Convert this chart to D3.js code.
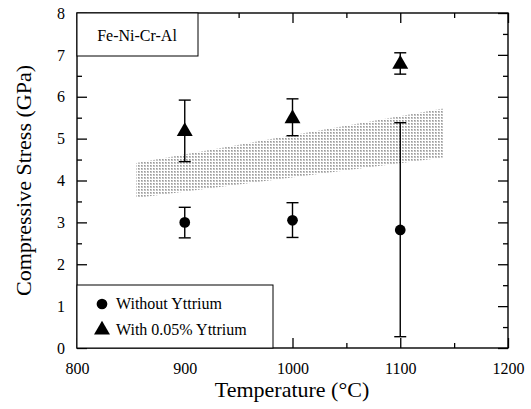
<!DOCTYPE html>
<html lang="en">
<head>
<meta charset="UTF-8">
<title>Compressive Stress</title>
<script src="https://cdnjs.cloudflare.com/ajax/libs/d3/7.8.5/d3.min.js"></script>
<style>
  body { margin: 0; background: #fff; }
  svg, svg text { font-family: "Liberation Serif", "Times New Roman", Times, serif; fill: #000; }
</style>
</head>
<body>
<svg id="chart" width="531" height="409"></svg>
<script>
// data
const temps = [900, 1000, 1100];
const noY = [3.0, 3.05, 2.82];
const noYLow = [2.63, 2.64, 0.27];
const noYHigh = [3.36, 3.47, 5.38];
const withY = [5.17, 5.48, 6.78];
const withYLow = [4.45, 5.07, 6.54];
const withYHigh = [5.92, 5.95, 7.05];
// shaded band (corners)
const bandX = [855, 1140];
const bandLow = [3.58, 4.55];
const bandHigh = [4.42, 5.72];

const xTicks = [800, 900, 1000, 1100, 1200];
const yTicks = [0, 1, 2, 3, 4, 5, 6, 7, 8];

const svg = d3.select("#chart");
const mLeft = 77, mRight = 508, mTop = 13, mBottom = 348;
const serif = "'Liberation Serif', 'Times New Roman', serif";

const x = d3.scaleLinear().domain([800, 1200]).range([mLeft, mRight]);
const y = d3.scaleLinear().domain([0, 8]).range([mBottom, mTop]);

// dotted texture for the band
const defs = svg.append("defs");
const pat = defs.append("pattern")
    .attr("id", "dots")
    .attr("patternUnits", "userSpaceOnUse")
    .attr("width", 3).attr("height", 3);
pat.append("rect").attr("width", 2).attr("height", 2).attr("fill", "#c2c2c2");
pat.append("rect").attr("width", 1).attr("height", 1).attr("fill", "#9a9a9a");

const band = bandX.map((d, i) => ({x: d, lo: bandLow[i], hi: bandHigh[i]}));
svg.append("path")
    .datum(band)
    .attr("d", d3.area().x(d => x(d.x)).y0(d => y(d.lo)).y1(d => y(d.hi)))
    .attr("fill", "url(#dots)");

// axes with inward ticks on all four sides
const axes = svg.append("g");
const bottomAxis = d3.axisBottom(x).tickValues(xTicks).tickSize(-10).tickPadding(15).tickFormat(d3.format("d"));
axes.append("g").attr("transform", `translate(0,${mBottom})`).call(bottomAxis);
axes.append("g").attr("transform", `translate(0,${mBottom})`)
    .call(d3.axisBottom(x).tickValues(d3.range(850, 1200, 100)).tickSize(-5).tickFormat(""));
axes.append("g").attr("transform", `translate(0,${mTop})`)
    .call(d3.axisTop(x).tickValues(xTicks).tickSize(-10).tickFormat(""));
axes.append("g").attr("transform", `translate(0,${mTop})`)
    .call(d3.axisTop(x).tickValues(d3.range(850, 1200, 100)).tickSize(-5).tickFormat(""));

axes.append("g").attr("transform", `translate(${mLeft},0)`)
    .call(d3.axisLeft(y).tickValues(yTicks).tickSize(-10).tickPadding(12));
axes.append("g").attr("transform", `translate(${mLeft},0)`)
    .call(d3.axisLeft(y).tickValues(d3.range(0.5, 8, 1)).tickSize(-5).tickFormat(""));
axes.append("g").attr("transform", `translate(${mRight},0)`)
    .call(d3.axisRight(y).tickValues(yTicks).tickSize(-10).tickFormat(""));
axes.append("g").attr("transform", `translate(${mRight},0)`)
    .call(d3.axisRight(y).tickValues(d3.range(0.5, 8, 1)).tickSize(-5).tickFormat(""));

axes.selectAll("g").attr("font-family", null);
axes.selectAll(".domain").remove();
axes.selectAll(".tick line").attr("stroke", "#000").attr("stroke-width", 1.3);
axes.selectAll(".tick text").attr("font-size", 16).attr("fill", "#000")
    .style("font-family", serif);

svg.append("rect")
    .attr("x", mLeft).attr("y", mTop)
    .attr("width", mRight - mLeft).attr("height", mBottom - mTop)
    .attr("fill", "none").attr("stroke", "#000").attr("stroke-width", 1.4);

// error bars + markers
function errorBars(vals, lo, hi) {
  const g = svg.append("g").attr("stroke", "#000").attr("stroke-width", 1.4);
  temps.forEach((t, i) => {
    g.append("line").attr("x1", x(t)).attr("x2", x(t)).attr("y1", y(lo[i])).attr("y2", y(hi[i]));
    [lo[i], hi[i]].forEach(v => {
      g.append("line").attr("x1", x(t) - 6).attr("x2", x(t) + 6).attr("y1", y(v)).attr("y2", y(v));
    });
  });
}
errorBars(noY, noYLow, noYHigh);
errorBars(withY, withYLow, withYHigh);

const circleSym = d3.symbol().type(d3.symbolCircle).size(90);
const triSym = d3.symbol().type(d3.symbolTriangle).size(110);

svg.append("g").selectAll("path").data(noY).join("path")
    .attr("d", circleSym)
    .attr("transform", (d, i) => `translate(${x(temps[i])},${y(d)})`)
    .attr("fill", "#000");
svg.append("g").selectAll("path").data(withY).join("path")
    .attr("d", triSym)
    .attr("transform", (d, i) => `translate(${x(temps[i])},${y(d)})`)
    .attr("fill", "#000");

// label box top-left
svg.append("rect").attr("x", mLeft).attr("y", mTop).attr("width", 121).attr("height", 43)
    .attr("fill", "#fff").attr("stroke", "#000").attr("stroke-width", 1);
svg.append("text").attr("x", 137).attr("y", 41).attr("text-anchor", "middle")
    .attr("font-size", 16).style("font-family", serif).text("Fe-Ni-Cr-Al");

// legend box bottom-left
svg.append("rect").attr("x", mLeft).attr("y", 285).attr("width", 196).attr("height", mBottom - 285)
    .attr("fill", "#fff").attr("stroke", "#000").attr("stroke-width", 1);
const legend = [
  {label: "Without Yttrium", sym: circleSym, ty: 304},
  {label: "With 0.05% Yttrium", sym: triSym, ty: 330}
];
legend.forEach(l => {
  svg.append("path").attr("d", l.sym).attr("fill", "#000")
      .attr("transform", `translate(102,${l.ty})`);
  svg.append("text").attr("x", 116).attr("y", l.ty + 5).attr("font-size", 16)
      .style("font-family", serif).text(l.label);
});

// axis titles
svg.append("text").attr("x", 292).attr("y", 397).attr("text-anchor", "middle")
    .attr("font-size", 22).style("font-family", serif).text("Temperature (°C)");
svg.append("text").attr("transform", `translate(31,${(mTop + mBottom) / 2}) rotate(-90)`)
    .attr("text-anchor", "middle").attr("font-size", 22).style("font-family", serif)
    .text("Compressive Stress (GPa)");
</script>
</body>
</html>
